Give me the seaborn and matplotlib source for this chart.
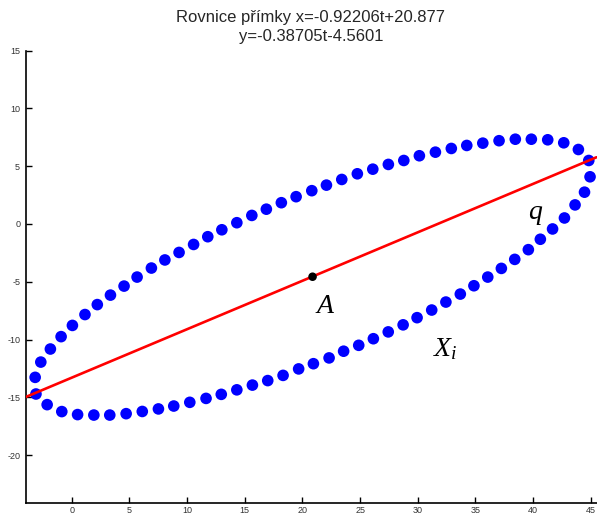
import matplotlib
matplotlib.use("Agg")
import matplotlib.pyplot as plt
import seaborn as sns
import pandas as pd

# ---- data ----
pts_x = [44.83, 43.93, 42.66, 41.27, 39.85, 38.46, 37.05, 35.64, 34.25, 32.91,
         31.53, 30.14, 28.79, 27.45, 26.10, 24.76, 23.41, 22.08, 20.81, 19.45,
         18.17, 16.87, 15.61, 14.31, 13.01, 11.79, 10.56, 9.30, 8.07, 6.90,
         5.66, 4.53, 3.35, 2.21, 1.14, 0.05, -0.93, -1.86, -2.69, -3.18,
         -3.11, -2.14, -0.87, 0.50, 1.91, 3.29, 4.71, 6.11, 7.51, 8.84,
         10.23, 11.64, 12.96, 14.31, 15.66, 16.99, 18.32, 19.67, 20.95, 22.31,
         23.57, 24.88, 26.15, 27.44, 28.73, 29.94, 31.21, 32.44, 33.69, 34.87,
         36.07, 37.25, 38.41, 39.59, 40.63, 41.69, 42.72, 43.64, 44.46, 44.94]
pts_y = [5.49, 6.44, 7.02, 7.28, 7.33, 7.33, 7.20, 6.99, 6.79, 6.53,
         6.21, 5.90, 5.49, 5.15, 4.74, 4.34, 3.85, 3.36, 2.88, 2.36,
         1.84, 1.28, 0.74, 0.11, -0.50, -1.10, -1.77, -2.46, -3.11, -3.81,
         -4.59, -5.37, -6.15, -6.97, -7.83, -8.77, -9.74, -10.81, -11.94, -13.26,
         -14.70, -15.62, -16.22, -16.48, -16.52, -16.52, -16.40, -16.21, -15.99, -15.74,
         -15.42, -15.08, -14.73, -14.34, -13.93, -13.54, -13.09, -12.53, -12.08, -11.58,
         -11.00, -10.49, -9.92, -9.33, -8.72, -8.10, -7.44, -6.75, -6.06, -5.34,
         -4.59, -3.84, -3.06, -2.22, -1.32, -0.43, 0.52, 1.65, 2.75, 4.08]

line_x = [-4.0, 45.5]
line_y = [-14.96, 5.77]

point_A = (20.877, -4.5601)

labels = ["A", "q", "X_i"]
label_x = [21.96, 40.2, 32.4]
label_y = [-7.05, 0.9, -10.8]

title_lines = ["Rovnice přímky x=-0.92206t+20.877", "y=-0.38705t-4.5601"]
xticks = [0, 5, 10, 15, 20, 25, 30, 35, 40, 45]
yticks = [-20, -15, -10, -5, 0, 5, 10, 15]

# ---- plot ----
sns.set_style("ticks")
plt.rcParams["font.family"] = ["Liberation Sans", "DejaVu Sans"]
plt.rcParams["mathtext.fontset"] = "custom"
plt.rcParams["mathtext.it"] = "Liberation Serif:italic"
plt.rcParams["mathtext.rm"] = "Liberation Serif"
plt.rcParams["axes.unicode_minus"] = False

fig = plt.figure(figsize=(5.97, 5.16), dpi=100)
W, H = 597, 516
ax = fig.add_axes([25.7 / W, (H - 503.3) / H, (596.5 - 25.7) / W, (503.3 - 50.5) / H])

df_pts = pd.DataFrame({"x": pts_x, "y": pts_y})
df_line = pd.DataFrame({"x": line_x, "y": line_y})
df_A = pd.DataFrame({"x": [point_A[0]], "y": [point_A[1]]})

sns.scatterplot(data=df_pts, x="x", y="y", ax=ax, color="#0000ff", s=70,
                edgecolor="none", linewidth=0, zorder=2)
sns.lineplot(data=df_line, x="x", y="y", ax=ax, color="#ff0000", linewidth=1.9,
             sort=False, estimator=None, zorder=3)
sns.scatterplot(data=df_A, x="x", y="y", ax=ax, color="black", s=38,
                edgecolor="none", linewidth=0, zorder=4)

for lab, lx, ly in zip(labels, label_x, label_y):
    ax.text(lx, ly, f"${lab}$", fontsize=20, ha="center", va="center", color="black")

ax.set_xlim(-4, 45.5)
ax.set_ylim(-24.15, 15)
ax.set_xticks(xticks)
ax.set_yticks(yticks)
ax.set_xlabel("")
ax.set_ylabel("")
ax.tick_params(direction="in", length=4, width=1, labelsize=6.5, colors="black",
               labelcolor="#333333")
ax.tick_params(axis="x", pad=2)
ax.tick_params(axis="y", pad=4)
for s in ["top", "right"]:
    ax.spines[s].set_visible(False)
for s in ["left", "bottom"]:
    ax.spines[s].set_color("black")
    ax.spines[s].set_linewidth(1.2)

fig.text(311 / W, 1 - 17 / H, title_lines[0], ha="center", va="center", fontsize=12)
fig.text(311 / W, 1 - 37 / H, title_lines[1], ha="center", va="center", fontsize=12)

fig.savefig("out.png", dpi=100)
